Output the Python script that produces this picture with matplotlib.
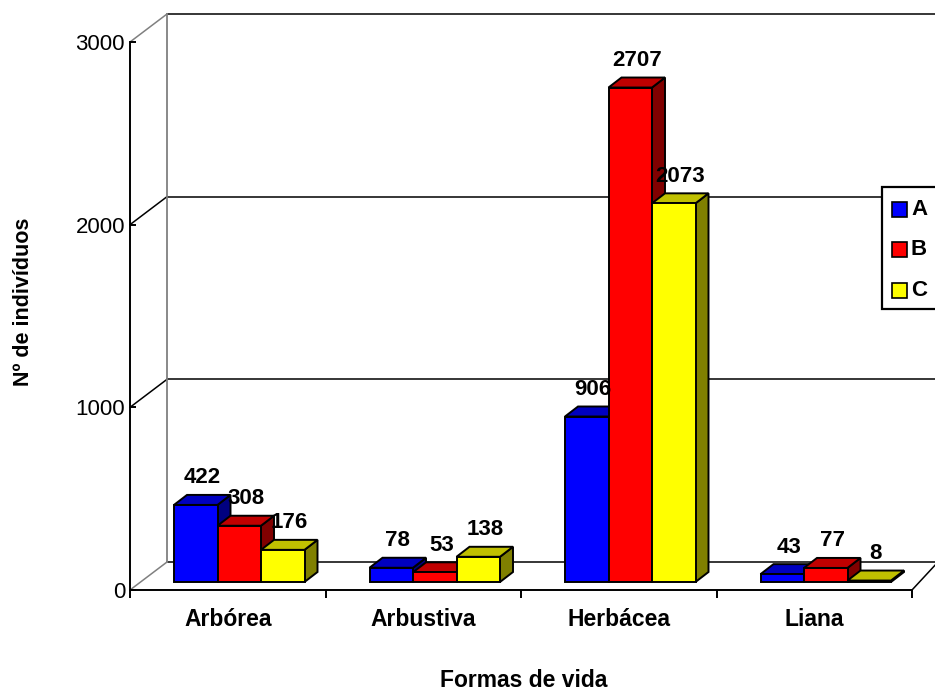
import numpy as np
import matplotlib.pyplot as plt
from matplotlib.patches import Polygon, Rectangle
from matplotlib.transforms import blended_transform_factory

plt.rcParams['font.family'] = ['Liberation Sans', 'DejaVu Sans']

categories = ['Arbórea', 'Arbustiva', 'Herbácea', 'Liana']
series = ['A', 'B', 'C']
valores_a = [422, 78, 906, 43]
valores_b = [308, 53, 2707, 77]
valores_c = [176, 138, 2073, 8]
y_ticks = [0, 1000, 2000, 3000]

cor_frente = ['#0000FF', '#FF0000', '#FFFF00']
cor_topo = ['#0000C0', '#C00000', '#C0C000']
cor_lado = ['#000080', '#800000', '#808000']

valores = [valores_a, valores_b, valores_c]

W, H = 935, 692
fig = plt.figure(figsize=(W / 100, H / 100), dpi=100)
ax = fig.add_axes([130 / W, 1 - 590 / H, 782 / W, 548 / H])
ax.set_xlim(0, len(categories))
ax.set_ylim(0, 3000)

# pixel -> data units
px = len(categories) / 782
py = 3000 / 548

# paredes 3d (parede do fundo deslocada)
wdx_l = 37 * px
wdx_r = 26 * px
wdy = 28 * py
for v in y_ticks:
    ax.plot([wdx_l, len(categories) + wdx_r], [v + wdy, v + wdy], color='k', lw=1.1, zorder=1, clip_on=False)
    c = 'k' if 0 < v < 3000 else '#808080'
    ax.plot([0, wdx_l], [v, v + wdy], color=c, lw=1.1, zorder=1, clip_on=False)
ax.plot([wdx_l, wdx_l], [wdy, 3000 + wdy], color='#808080', lw=1.3, zorder=1, clip_on=False)
ax.plot([len(categories), len(categories) + wdx_r], [0, wdy], color='k', lw=1.1, zorder=1, clip_on=False)

# barras
bar_w = 43.5 * px
group_off = 44 * px
bdx = 13 * px
bdy = 10 * py
base = 8 * py
z = 3
for g in range(len(categories)):
    for i in range(len(series)):
        v = valores[i][g]
        x0 = g + group_off + i * bar_w
        y0 = base
        y1 = base + v
        lado = Polygon([(x0 + bar_w, y0), (x0 + bar_w, y1), (x0 + bar_w + bdx, y1 + bdy), (x0 + bar_w + bdx, y0 + bdy)],
                       closed=True, fc=cor_lado[i], ec='k', lw=1.4, zorder=z, clip_on=False)
        topo = Polygon([(x0, y1), (x0 + bdx, y1 + bdy), (x0 + bar_w + bdx, y1 + bdy), (x0 + bar_w, y1)],
                       closed=True, fc=cor_topo[i], ec='k', lw=1.4, zorder=z + 0.001, clip_on=False)
        ax.add_patch(lado)
        ax.add_patch(topo)
        ax.bar(x0, v, width=bar_w, bottom=base, align='edge', color=cor_frente[i], edgecolor='k', lw=1.4,
               zorder=z + 0.002, clip_on=False)
        ax.text(x0 + bar_w / 2 + bdx / 2, y1 + bdy + 17 * py, str(v), ha='center', va='center',
                fontsize=16, fontweight='bold', zorder=10)
        z += 0.01

# eixos
for s in ['top', 'right']:
    ax.spines[s].set_visible(False)
for s in ['left', 'bottom']:
    ax.spines[s].set_linewidth(1.4)
    ax.spines[s].set_zorder(2)
ax.set_yticks(y_ticks)
ax.set_yticklabels([str(v) for v in y_ticks], fontsize=16)
ax.tick_params(axis='y', direction='in', length=4.3, width=1.4, pad=3.6)
ax.set_xticks(range(len(categories) + 1))
ax.set_xticklabels([])
ax.tick_params(axis='x', direction='out', length=5.8, width=1.4)
ax.patch.set_visible(False)

trans = blended_transform_factory(ax.transData, fig.transFigure)
for g, nome in enumerate(categories):
    ax.text(g + 0.5, 1 - 626 / H, nome, transform=trans, ha='center', va='baseline',
            fontsize=16.5, fontweight='bold')

fig.text(24 / W, 1 - 302 / H, 'Nº de indivíduos', rotation=90, ha='center', va='center',
         fontsize=15.5, fontweight='bold')
fig.text(524 / W, 1 - 687 / H, 'Formas de vida', ha='center', va='baseline',
         fontsize=16.5, fontweight='bold')

# legenda
fig.patches.append(Rectangle((882 / W, 1 - 309 / H), 70 / W, 122 / H, transform=fig.transFigure,
                             fc='white', ec='k', lw=1.6, zorder=5))
centros = [209.5, 249.5, 290.5]
for i, nome in enumerate(series):
    fig.patches.append(Rectangle((892 / W, 1 - (centros[i] + 7.5) / H), 15 / W, 15 / H,
                                 transform=fig.transFigure, fc=cor_frente[i], ec='k', lw=1.2, zorder=6))
    fig.text(911 / W, 1 - centros[i] / H, nome, ha='left', va='center', fontsize=16,
             fontweight='bold', zorder=7)

fig.savefig('out.png', dpi=100)
